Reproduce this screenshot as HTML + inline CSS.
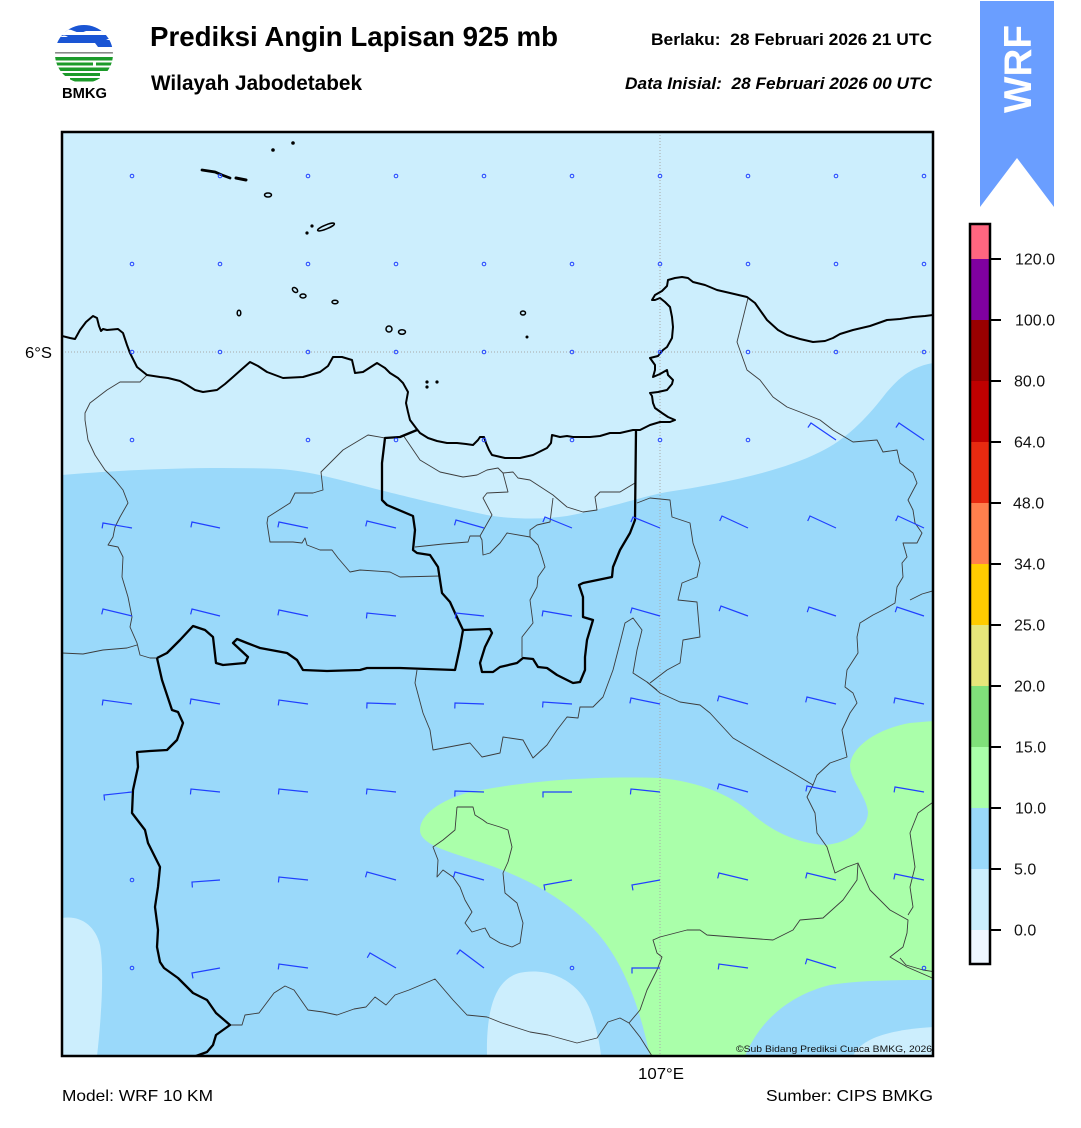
<!DOCTYPE html>
<html><head><meta charset="utf-8"><style>
html,body{margin:0;padding:0;background:#fff;}
svg{display:block;}
text{font-family:"Liberation Sans",Arial,sans-serif;}
</style></head><body>
<svg width="1081" height="1128" viewBox="0 0 1081 1128" xmlns="http://www.w3.org/2000/svg">
<defs>
<clipPath id="mapc"><rect x="62" y="132" width="871" height="924"/></clipPath>
<clipPath id="lc"><circle cx="84" cy="54" r="29"/></clipPath>
</defs>
<rect width="1081" height="1128" fill="#fff"/>

<!-- Logo -->
<g clip-path="url(#lc)">
<rect x="55" y="23" width="60" height="9" fill="#1a55d4"/>
<path d="M55,32 L62,31 Q68,28 74,31 Q80,34 86,31 L115,31 L115,35 L55,35 Z" fill="#fff"/>
<rect x="55" y="35" width="60" height="4" fill="#1a55d4"/>
<path d="M55,39 L70,39 Q74,36 78,39 L100,39 Q104,37 108,40 L115,40 L115,47 L98,47 L95,43 L70,43 L55,43 Z" fill="#1a55d4"/>
<path d="M60,37 Q64,34 68,37 Z" fill="#fff"/>
<rect x="55" y="52" width="60" height="1.6" fill="#8a8a8a"/>
<rect x="55" y="57" width="60" height="3.5" fill="#1c9a2a"/>
<rect x="55" y="62.5" width="38" height="3" fill="#1c9a2a"/>
<rect x="96" y="62.5" width="20" height="3" fill="#1c9a2a"/>
<rect x="55" y="67.5" width="60" height="3.5" fill="#1c9a2a"/>
<rect x="55" y="73" width="45" height="3" fill="#1c9a2a"/>
<rect x="70" y="78" width="40" height="3.5" fill="#1c9a2a"/>
</g>
<text x="62" y="98" font-size="14.5" font-weight="bold" textLength="45" lengthAdjust="spacingAndGlyphs">BMKG</text>

<!-- Titles -->
<text x="150" y="46" font-size="27.5" font-weight="bold" textLength="408" lengthAdjust="spacingAndGlyphs">Prediksi Angin Lapisan 925 mb</text>
<text x="151" y="90" font-size="20.8" font-weight="bold" textLength="211" lengthAdjust="spacingAndGlyphs">Wilayah Jabodetabek</text>
<text x="651" y="45" font-size="17" font-weight="bold" textLength="281" lengthAdjust="spacingAndGlyphs" xml:space="preserve">Berlaku:  28 Februari 2026 21 UTC</text>
<text x="625" y="89" font-size="17" font-weight="bold" font-style="italic" textLength="307" lengthAdjust="spacingAndGlyphs" xml:space="preserve">Data Inisial:  28 Februari 2026 00 UTC</text>

<!-- WRF banner -->
<polygon points="980,1 1054,1 1054,207 1017,158 980,207" fill="#6a9eff"/>
<text transform="translate(1031,113) rotate(-90)" x="0" y="0" font-size="39" font-weight="bold" fill="#fff" textLength="88" lengthAdjust="spacingAndGlyphs">WRF</text>

<!-- Map -->
<g clip-path="url(#mapc)">
<rect x="62" y="132" width="871" height="924" fill="#9ad9fa"/>
<path d="M62,132 L933,132 L933,363 C915,366 900,375 883,397 C865,420 845,440 820,452 C780,472 720,484 667,492 C640,497 610,508 567,516 C540,520 510,519 487,515 C440,505 400,495 380,490 C340,480 310,471 280,469 C200,466 120,470 62,475 Z" fill="#cceefd"/>
<path d="M420,830 C420,815 440,800 470,792 L493,788 C540,780 600,776 660,778 C700,782 730,795 750,812 C770,830 795,843 825,845 C850,843 868,828 868,812 C866,795 850,780 850,765 C852,745 880,728 910,723 L933,721 L933,980 C900,980 860,980 830,985 C790,995 760,1020 745,1056 L650,1056 C640,1010 625,960 590,925 C560,895 520,875 480,862 C450,852 420,845 420,830 Z" fill="#aaffaa"/>
<path d="M62,918 C80,915 95,925 100,945 C105,975 100,1030 97,1056 L62,1056 Z" fill="#cceefd"/>
<path d="M487,1056 C486,1010 495,975 525,972 C560,968 585,990 592,1015 C597,1030 600,1045 601,1056 Z" fill="#cceefd"/>
<path d="M853,1056 C860,1040 885,1030 933,1027 L933,1056 Z" fill="#cceefd"/>

<!-- grid -->
<line x1="62" y1="352" x2="933" y2="352" stroke="#a8a8a8" stroke-width="1" stroke-dasharray="1,2"/>
<line x1="660" y1="132" x2="660" y2="1056" stroke="#a8a8a8" stroke-width="1" stroke-dasharray="1,2"/>

<!-- thin boundaries -->
<g fill="none" stroke="#3c3c3c" stroke-width="0.9" stroke-linejoin="round">
<path d="M147,375 L140,382 L120,382 L107,390 L90,403 L85,413 L85,420 L88,440 L95,455 L105,470 L115,480 L123,490 L128,503 L120,517 L115,527 L113,537 L108,545 L118,547 L123,557 L122,577 L128,597 L132,617 L130,627 L137,643 L140,655 L150,658 L157,658"/>
<path d="M62,653 L83,654 L103,650 L127,648 L137,645"/>
<path d="M385,438 L368,435 L343,450 L321,472 L323,490 L313,493 L295,493 L290,503 L268,517 L267,523 L270,542 L293,542 L302,543 L305,538 L307,545 L320,550 L332,550 L338,558 L350,572 L360,570 L390,572 L400,577 L440,576"/>
<path d="M403,435 L420,460 L440,472 L463,477 L477,475 L487,470 L498,468 L503,473 L513,472 L518,478 L530,480 L553,495 L567,507 L583,512 L597,510 L595,497 L600,492 L620,492 L635,483"/>
<path d="M503,473 L508,492 L487,493 L483,498 L492,515 L480,536 L470,536 L468,542 L443,544 L415,547"/>
<path d="M480,536 L482,540 L483,555 L490,553 L500,543 L507,533 L530,537 L530,530 L537,525 L550,522 L553,498"/>
<path d="M530,537 L538,545 L542,557 L545,567 L538,577 L537,587 L530,600 L533,623 L522,637 L522,657"/>
<path d="M417,670 L415,683 L423,713 L430,730 L433,750 L470,743 L482,757 L500,753 L503,737 L523,740 L533,758 L547,745 L557,730 L567,717 L578,718 L580,707 L593,707 L603,697 L613,670 L620,643 L625,623 L633,618 L642,630 L637,650 L633,673 L647,682 L657,690"/>
<path d="M637,503 L650,498 L670,500 L672,517 L690,523 L693,543 L700,563 L697,577 L682,583 L678,600 L697,602 L700,637 L683,640 L680,663 L667,670 L650,683"/>
<path d="M748,298 L737,342 L747,370 L760,380 L773,397 L787,407 L800,412 L820,420 L833,430 L853,442 L877,440 L883,452 L897,450 L900,463 L913,473 L917,483 L908,500 L913,510 L915,523 L922,533 L917,543 L903,543 L907,557 L902,563 L903,577 L897,587 L895,603 L883,610 L873,615 L860,623 L857,637 L858,653 L847,670 L845,687 L853,693 L857,703 L850,713 L842,730 L847,757 L830,763 L817,775 L813,785 L807,797 L815,813 L817,833 L827,847 L835,873 L847,867 L858,863 L857,880 L843,900 L823,918 L800,920 L793,930 L773,940 L733,937 L707,935 L700,930 L687,930 L660,937 L653,940 L657,953 L662,957 L657,970 L647,990 L640,1010 L629,1023"/>
<path d="M647,682 L660,693 L680,702 L700,705 L710,713 L733,738 L767,758 L793,773 L813,785"/>
<path d="M858,863 L870,890 L890,910 L908,920 L907,933 L903,947 L890,957 L907,967 L930,977 L936,980"/>
<path d="M936,800 L918,813 L910,833 L915,867 L910,887 L913,907 L908,915"/>
<path d="M900,958 L906,965 L923,970 L936,972"/>
<path d="M457,807 L455,830 L443,840 L433,847 L438,860 L437,877 L443,870 L453,877 L460,887 L465,900 L472,912 L465,923 L472,932 L485,928 L490,937 L500,943 L512,947 L520,943 L523,923 L517,903 L505,893 L503,873 L508,862 L512,847 L508,830 L500,827 L487,823 L483,820 L475,815 L473,807 L457,807"/>
<path d="M230,1025 L242,1025 L245,1015 L259,1013 L274,993 L285,986 L294,990 L308,1010 L323,1012 L337,1015 L354,1009 L366,1007 L375,997 L386,1005 L395,995 L409,990 L435,979 L453,1000 L467,1015 L487,1017 L502,1023 L530,1032 L548,1035 L577,1043 L597,1038 L608,1022 L620,1018 L629,1023 L640,1037 L652,1056"/>
<path d="M910,600 L922,594 L936,590"/>
</g>

<!-- thick province boundaries -->
<g fill="none" stroke="#000" stroke-width="2.3" stroke-linejoin="round">
<path d="M417,430 L400,437 L385,438 L382,463 L382,500 L387,505 L413,516 L415,530 L413,550 L417,553 L430,555 L438,567 L442,593 L450,602 L455,613 L463,630 L490,629 L492,633 L485,647 L480,663 L482,672 L493,672 L500,667 L517,663 L523,658 L533,659 L538,667 L547,668 L557,675 L573,683 L580,682 L585,670 L585,657 L587,640 L593,620 L583,617 L583,597 L579,585 L583,583 L612,577 L613,567 L620,550 L630,533 L635,520 L636,430"/>
<path d="M157,658 L167,653 L180,640 L193,626 L205,630 L213,637 L216,663 L223,665 L245,663 L248,657 L233,643 L237,639 L247,643 L260,648 L287,653 L297,660 L303,670 L327,671 L360,670 L367,668 L400,668 L455,670 L460,647 L463,630"/>
<path d="M157,658 L162,680 L172,710 L178,712 L183,723 L177,740 L167,750 L150,751 L137,752 L138,767 L133,790 L132,813 L145,830 L148,843 L160,867 L158,887 L155,907 L158,930 L157,947 L160,962 L164,968 L178,978 L193,993 L207,1000 L216,1013 L230,1025 L216,1035 L213,1045 L207,1052 L196,1056"/>
</g>

<!-- coastline -->
<path fill="none" stroke="#000" stroke-width="2" stroke-linejoin="round" d="M62,336 L70,338 L75,339 L80,330 L86,322 L93,316 L97,318 L99,326 L101,331 L103,329 L107,330 L118,329 L123,333 L127,345 L130,353 L137,367 L147,375 L160,377 L168,378 L180,381 L187,385 L195,390 L203,392 L217,390 L225,384 L233,377 L242,369 L250,362 L258,366 L267,372 L283,378 L303,377 L320,372 L328,366 L333,357 L342,357 L352,360 L355,373 L363,372 L377,363 L385,368 L390,373 L398,378 L403,383 L408,392 L406,403 L408,412 L410,420 L416,428 L420,433 L428,438 L437,441 L447,443 L457,443 L466,444 L473,445 L478,440 L480,437 L484,437 L486,443 L489,450 L492,455 L505,458 L520,458 L533,455 L541,451 L547,448 L551,443 L552,435 L560,437 L567,436 L573,437 L583,437 L590,437 L600,436 L610,433 L620,433 L633,430 L640,430 L650,425 L660,422 L670,422 L675,420 L668,417 L662,413 L655,408 L653,403 L652,396 L650,393 L658,392 L667,390 L672,384 L673,380 L668,375 L667,370 L660,374 L653,377 L655,370 L655,365 L650,358 L658,356 L663,350 L667,347 L672,338 L673,327 L672,317 L670,307 L665,302 L660,298 L655,300 L652,300 L655,295 L662,291 L667,286 L668,280 L675,278 L682,277 L688,278 L693,282 L705,285 L717,290 L730,293 L747,297 L755,303 L767,320 L778,330 L787,335 L800,339 L813,342 L825,341 L833,338 L840,334 L853,330 L870,326 L887,320 L900,319 L913,317 L925,316 L933,315"/>

<!-- islands -->
<g fill="#000">
<circle cx="273" cy="150" r="1.8"/>
<circle cx="293" cy="143" r="1.8"/>
<circle cx="312" cy="226" r="1.6"/>
<circle cx="307" cy="233" r="1.6"/>
<circle cx="427" cy="382" r="1.6"/>
<circle cx="427" cy="387" r="1.6"/>
<circle cx="437" cy="382" r="1.6"/>
<circle cx="527" cy="337" r="1.5"/>
</g>
<g fill="none" stroke="#000" stroke-width="1.5">
<path d="M202,170 L215,172 L222,175 L230,178" stroke-width="2.8" stroke-linecap="round"/>
<path d="M236,178 L246,180" stroke-width="3" stroke-linecap="round"/>
<ellipse cx="268" cy="195" rx="3.5" ry="2"/>
<ellipse cx="326" cy="227" rx="9" ry="2" transform="rotate(-22 326 227)"/>
<ellipse cx="295" cy="290" rx="3" ry="2" transform="rotate(40 295 290)"/>
<ellipse cx="303" cy="296" rx="3" ry="2"/>
<ellipse cx="335" cy="302" rx="3" ry="1.8"/>
<ellipse cx="239" cy="313" rx="1.8" ry="2.8"/>
<ellipse cx="389" cy="329" rx="3" ry="3"/>
<ellipse cx="402" cy="332" rx="3.5" ry="2.2"/>
<ellipse cx="523" cy="313" rx="2.5" ry="2"/>
</g>

<!-- calm circles -->
<g fill="none" stroke="#2040ff" stroke-width="1">
<circle cx="132" cy="176" r="1.8"/><circle cx="220" cy="176" r="1.8"/><circle cx="308" cy="176" r="1.8"/><circle cx="396" cy="176" r="1.8"/><circle cx="484" cy="176" r="1.8"/><circle cx="572" cy="176" r="1.8"/><circle cx="660" cy="176" r="1.8"/><circle cx="748" cy="176" r="1.8"/><circle cx="836" cy="176" r="1.8"/><circle cx="924" cy="176" r="1.8"/>
<circle cx="132" cy="264" r="1.8"/><circle cx="220" cy="264" r="1.8"/><circle cx="308" cy="264" r="1.8"/><circle cx="396" cy="264" r="1.8"/><circle cx="484" cy="264" r="1.8"/><circle cx="572" cy="264" r="1.8"/><circle cx="660" cy="264" r="1.8"/><circle cx="748" cy="264" r="1.8"/><circle cx="836" cy="264" r="1.8"/><circle cx="924" cy="264" r="1.8"/>
<circle cx="132" cy="352" r="1.8"/><circle cx="220" cy="352" r="1.8"/><circle cx="308" cy="352" r="1.8"/><circle cx="396" cy="352" r="1.8"/><circle cx="484" cy="352" r="1.8"/><circle cx="572" cy="352" r="1.8"/><circle cx="660" cy="352" r="1.8"/><circle cx="748" cy="352" r="1.8"/><circle cx="836" cy="352" r="1.8"/><circle cx="924" cy="352" r="1.8"/>
<circle cx="132" cy="440" r="1.8"/><circle cx="308" cy="440" r="1.8"/><circle cx="396" cy="440" r="1.8"/><circle cx="484" cy="440" r="1.8"/><circle cx="572" cy="440" r="1.8"/><circle cx="660" cy="440" r="1.8"/><circle cx="748" cy="440" r="1.8"/>
<circle cx="132" cy="880" r="1.8"/><circle cx="132" cy="968" r="1.8"/><circle cx="572" cy="968" r="1.8"/><circle cx="924" cy="968" r="1.8"/>
</g>

<!-- barbs -->
<g fill="none" stroke="#2040ff" stroke-width="1.2" stroke-linejoin="miter">
<path d="M836,440 l-25,-17 l-3.1,4.55"/>
<path d="M924,440 l-25,-17 l-3.1,4.55"/>

<path d="M132,528 l-29,-5 l-0.9,5.4"/>
<path d="M220,528 l-28,-6 l-1.1,5.4"/>
<path d="M308,528 l-29,-6 l-1.1,5.4"/>
<path d="M396,528 l-29,-7 l-1.3,5.35"/>
<path d="M484,528 l-28,-8 l-1.5,5.3"/>
<path d="M572,528 l-27,-11 l-2.1,5.1"/>
<path d="M660,528 l-27,-11 l-2.1,5.1"/>
<path d="M748,528 l-26,-12 l-2.3,5.0"/>
<path d="M836,528 l-26,-12 l-2.3,5.0"/>
<path d="M924,528 l-26,-12 l-2.3,5.0"/>

<path d="M132,616 l-29,-7 l-1.3,5.35"/>
<path d="M220,616 l-28,-7 l-1.35,5.35"/>
<path d="M308,616 l-29,-6 l-1.1,5.4"/>
<path d="M396,616 l-29,-3 l-0.57,5.47"/>
<path d="M484,616 l-28,-3 l-0.6,5.47"/>
<path d="M572,616 l-29,-5 l-0.9,5.4"/>
<path d="M660,616 l-28,-8 l-1.5,5.3"/>
<path d="M748,616 l-27,-10 l-1.9,5.15"/>
<path d="M836,616 l-27,-9 l-1.75,5.2"/>
<path d="M924,616 l-27,-9 l-1.75,5.2"/>

<path d="M132,704 l-29,-4 l-0.75,5.45"/>
<path d="M220,704 l-29,-5 l-0.9,5.4"/>
<path d="M308,704 l-29,-4 l-0.75,5.45"/>
<path d="M396,704 l-29,-1 l-0.2,5.5"/>
<path d="M484,704 l-29,-1 l-0.2,5.5"/>
<path d="M572,704 l-29,-2 l-0.4,5.5"/>
<path d="M660,704 l-29,-6 l-1.1,5.4"/>
<path d="M748,704 l-29,-8 l-1.5,5.3"/>
<path d="M836,704 l-29,-7 l-1.3,5.35"/>
<path d="M924,704 l-29,-6 l-1.1,5.4"/>

<path d="M132,792 l-28,3 l0.6,5.47"/>
<path d="M220,792 l-29,-3 l-0.57,5.47"/>
<path d="M308,792 l-29,-3 l-0.57,5.47"/>
<path d="M396,792 l-29,-3 l-0.57,5.47"/>
<path d="M484,792 l-29,-1 l-0.2,5.5"/>
<path d="M572,792 l-29,0 l0,5.5"/>
<path d="M660,792 l-29,-3 l-0.57,5.47"/>
<path d="M748,792 l-29,-8 l-1.5,5.3"/>
<path d="M836,792 l-29,-6 l-1.1,5.4"/>
<path d="M924,792 l-29,-5 l-0.9,5.4"/>

<path d="M220,880 l-28,2 l0.4,5.5"/>
<path d="M308,880 l-29,-3 l-0.57,5.47"/>
<path d="M396,880 l-29,-8 l-1.5,5.3"/>
<path d="M484,880 l-29,-8 l-1.5,5.3"/>
<path d="M572,880 l-28,5 l0.97,5.41"/>
<path d="M660,880 l-28,5 l0.97,5.41"/>
<path d="M748,880 l-29,-7 l-1.3,5.35"/>
<path d="M836,880 l-29,-7 l-1.3,5.35"/>
<path d="M924,880 l-29,-6 l-1.1,5.4"/>

<path d="M220,968 l-28,5 l0.97,5.41"/>
<path d="M308,968 l-29,-4 l-0.75,5.45"/>
<path d="M396,968 l-26,-15 l-2.75,4.76"/>
<path d="M484,968 l-24,-18 l-3.3,4.4"/>
<path d="M660,968 l-28,0 l0,5.5"/>
<path d="M748,968 l-29,-4 l-0.75,5.45"/>
<path d="M836,968 l-29,-9 l-1.6,5.25"/>
</g>

<text x="932" y="1052" font-size="9.5" text-anchor="end" textLength="196" lengthAdjust="spacingAndGlyphs" fill="#111">©Sub Bidang Prediksi Cuaca BMKG, 2026</text>
</g>
<rect x="62" y="132" width="871" height="924" fill="none" stroke="#000" stroke-width="2.5"/>

<!-- axis labels -->
<text x="25" y="358" font-size="16" textLength="27" lengthAdjust="spacingAndGlyphs">6°S</text>
<text x="638" y="1079" font-size="16" textLength="46" lengthAdjust="spacingAndGlyphs">107°E</text>
<text x="62" y="1101" font-size="16" textLength="151" lengthAdjust="spacingAndGlyphs">Model: WRF 10 KM</text>
<text x="766" y="1101" font-size="16" textLength="167" lengthAdjust="spacingAndGlyphs">Sumber: CIPS BMKG</text>

<!-- Colorbar -->
<g>
<rect x="970" y="224" width="20" height="35" fill="#ff6680"/>
<rect x="970" y="259" width="20" height="61" fill="#7f00a0"/>
<rect x="970" y="320" width="20" height="61" fill="#990000"/>
<rect x="970" y="381" width="20" height="61" fill="#c00000"/>
<rect x="970" y="442" width="20" height="61" fill="#e82a10"/>
<rect x="970" y="503" width="20" height="61" fill="#ff7f4d"/>
<rect x="970" y="564" width="20" height="61" fill="#ffcc00"/>
<rect x="970" y="625" width="20" height="61" fill="#e6e67a"/>
<rect x="970" y="686" width="20" height="61" fill="#80e07a"/>
<rect x="970" y="747" width="20" height="61" fill="#aaffaa"/>
<rect x="970" y="808" width="20" height="61" fill="#9ad9fa"/>
<rect x="970" y="869" width="20" height="61" fill="#cceefd"/>
<rect x="970" y="930" width="20" height="34" fill="#eef6ff"/>
<rect x="970" y="224" width="20" height="740" fill="none" stroke="#000" stroke-width="2.5"/>
<g stroke="#000" stroke-width="2">
<line x1="990" y1="259" x2="1001" y2="259"/>
<line x1="990" y1="320" x2="1001" y2="320"/>
<line x1="990" y1="381" x2="1001" y2="381"/>
<line x1="990" y1="442" x2="1001" y2="442"/>
<line x1="990" y1="503" x2="1001" y2="503"/>
<line x1="990" y1="564" x2="1001" y2="564"/>
<line x1="990" y1="625" x2="1001" y2="625"/>
<line x1="990" y1="686" x2="1001" y2="686"/>
<line x1="990" y1="747" x2="1001" y2="747"/>
<line x1="990" y1="808" x2="1001" y2="808"/>
<line x1="990" y1="869" x2="1001" y2="869"/>
<line x1="990" y1="930" x2="1001" y2="930"/>
</g>
<g font-size="16" fill="#111">
<text x="1015" y="264.5">120.0</text>
<text x="1015" y="325.5">100.0</text>
<text x="1014" y="386.5">80.0</text>
<text x="1014" y="447.5">64.0</text>
<text x="1013" y="508.5">48.0</text>
<text x="1014" y="569.5">34.0</text>
<text x="1014" y="630.5">25.0</text>
<text x="1014" y="691.5">20.0</text>
<text x="1015" y="752.5">15.0</text>
<text x="1015" y="813.5">10.0</text>
<text x="1014" y="874.5">5.0</text>
<text x="1014" y="935.5">0.0</text>
</g>
</g>
</svg>
</body></html>
